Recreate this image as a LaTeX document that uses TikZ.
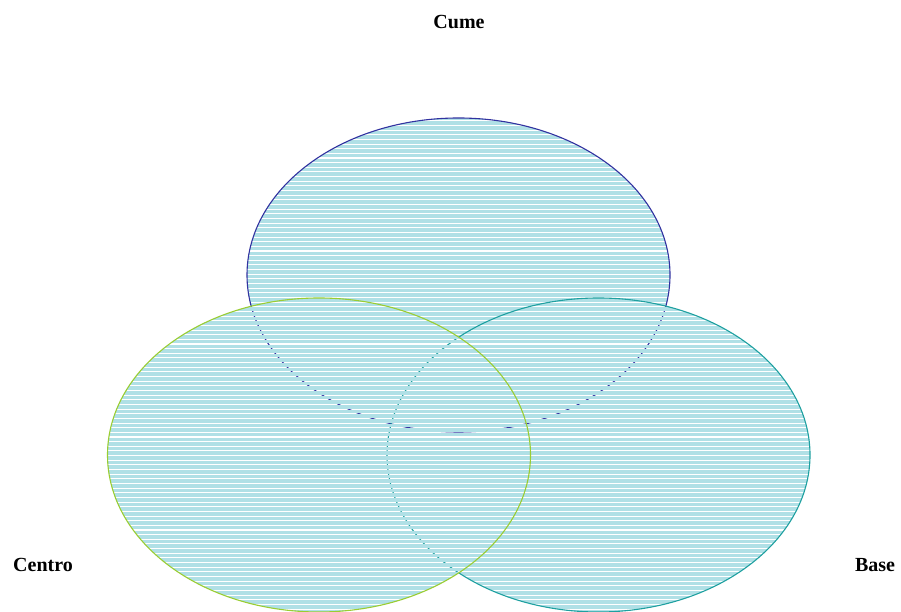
\documentclass[tikz,border=0pt]{standalone}
\usepackage{fontspec}
\setmainfont{Liberation Serif}
\usepackage{xcolor}
\definecolor{stripefill}{RGB}{176,224,230}
\definecolor{cumecol}{RGB}{50,50,160}
\definecolor{centrocol}{RGB}{154,205,50}
\definecolor{basecol}{RGB}{30,160,160}

\begin{document}
\begin{tikzpicture}[x=1pt,y=1pt,
    setlabel/.style={font=\bfseries\fontsize{20}{24}\selectfont},
    stripe/.style={stripefill,line width=3.6pt}]
    \useasboundingbox (0,0) rectangle (901,612);
    % Sets: hatched fill, then outline
    \foreach \cx/\cy/\col in {458.5/337/cumecol, 598.5/157/basecol, 319/157/centrocol}{
        \begin{scope}
            \clip (\cx,\cy) ellipse [x radius=211.5, y radius=157];
            \foreach \y in {0.6,5.25,...,612}
                \draw[stripe] (90,\y) -- (820,\y);
        \end{scope}
        \draw[\col,line width=1.1pt] (\cx,\cy) ellipse [x radius=211.5, y radius=157];
    }
    % Labels
    \node[setlabel] (cume) at (459,590) {Cume};
    \node[setlabel] (centro) at (43,47) {Centro};
    \node[setlabel] (base) at (875,47) {Base};
\end{tikzpicture}
\end{document}
